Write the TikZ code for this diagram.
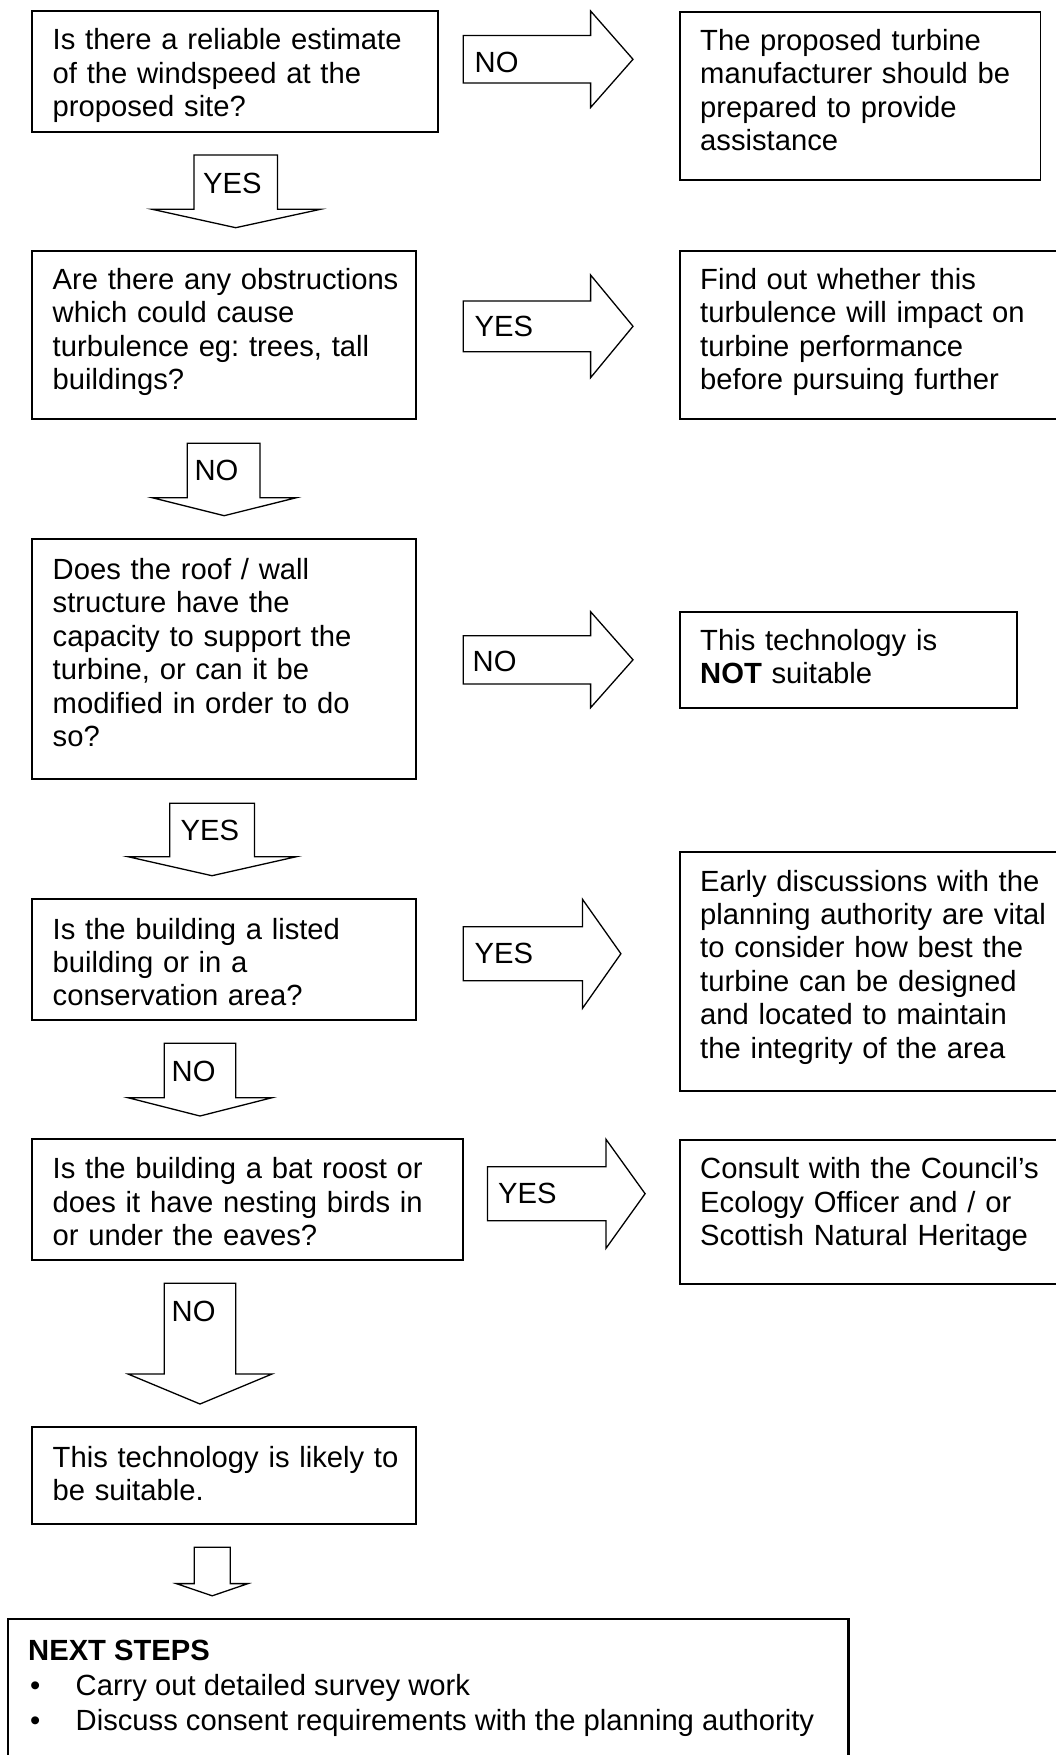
\documentclass[tikz,border=0pt]{standalone}
\usepackage{fontspec}
\setmainfont{Liberation Sans}
\frenchspacing
\begin{document}
\begin{tikzpicture}[x=1pt,y=-1pt,
  box/.style={draw=black, line width=1.8pt, fill=white, anchor=north west, inner sep=0pt, outer sep=0pt},
  blockarrow/.style={draw=black, line width=1.3pt, fill=white, line join=miter},
  txt/.style={anchor=base west, inner sep=0pt, text width=520pt, align=left,
    font=\fontsize{29.2}{33.4}\selectfont},
  lbl/.style={anchor=base west, inner sep=0pt, font=\fontsize{29.2}{33.4}\selectfont}]

\fill[white] (0,0) rectangle (1056,1755);
\useasboundingbox (0,0) rectangle (1056,1755);

% ---------- question boxes (left column) ----------
\node[box, minimum width=406pt, minimum height=120.7pt] (q1) at (31.6,11) {};
\node[box, minimum width=384.6pt, minimum height=168.3pt] (q2) at (31.6,251) {};
\node[box, minimum width=384.6pt, minimum height=240.3pt] (q3) at (31.6,539) {};
\node[box, minimum width=384.6pt, minimum height=120.7pt] (q4) at (31.6,899.3) {};
\node[box, minimum width=431.7pt, minimum height=120.7pt] (q5) at (31.6,1139.3) {};
\node[box, minimum width=384.6pt, minimum height=96.7pt] (q6) at (31.6,1427.3) {};
\node[box, line width=2.2pt, minimum width=840.4pt, minimum height=170pt] (next) at (8.1,1619.3) {};

% ---------- outcome boxes (right column) ----------
\node[box, minimum width=360.4pt, minimum height=168.3pt] (r1) at (680,11.7) {};
\node[box, minimum width=400pt, minimum height=168.3pt] (r2) at (680,251) {};
\node[box, minimum width=336.8pt, minimum height=96pt] (r3) at (680,611.7) {};
\node[box, minimum width=400pt, minimum height=239.6pt] (r4) at (680,851.7) {};
\node[box, minimum width=400pt, minimum height=144.3pt] (r5) at (680,1140) {};

% ---------- texts ----------
\node[txt] (q1t) at (52.5,50) {Is there a reliable estimate\\of the windspeed at the\\proposed site?};
\node[txt] (q2t) at (52.5,289.5) {Are there any obstructions\\which could cause\\turbulence eg: trees, tall\\buildings?};
\node[txt] (q3t) at (52.5,579.5) {Does the roof / wall\\structure have the\\capacity to support the\\turbine, or can it be\\modified in order to do\\so?};
\node[txt] (q4t) at (52.5,939) {Is the building a listed\\building or in a\\conservation area?};
\node[txt] (q5t) at (52.5,1178.7) {Is the building a bat roost or\\does it have nesting birds in\\or under the eaves?};
\node[txt] (q6t) at (52.5,1467) {This technology is likely to\\be suitable.};

\node[txt] (r1t) at (700,50.3) {The proposed turbine\\manufacturer should be\\prepared to provide\\assistance};
\node[txt] (r2t) at (700,289.5) {Find out whether this\\turbulence will impact on\\turbine performance\\before pursuing further};
\node[txt] (r3t) at (700,650.5) {This technology is\\\textbf{NOT} suitable};
\node[txt] (r4t) at (700,891) {Early discussions with the\\planning authority are vital\\to consider how best the\\turbine can be designed\\and located to maintain\\the integrity of the area};
\node[txt] (r5t) at (700,1178.7) {Consult with the Council’s\\Ecology Officer and / or\\Scottish Natural Heritage};

\node[lbl, font=\fontsize{29.2}{33.4}\selectfont\bfseries] (nt) at (28,1660) {NEXT STEPS};
\node[lbl] (b1) at (30,1695) {•};
\node[lbl] (s1) at (75.5,1695) {Carry out detailed survey work};
\node[lbl] (b2) at (30,1730.5) {•};
\node[lbl] (s2) at (75.5,1730.5) {Discuss consent requirements with the planning authority};

% ---------- block arrows pointing right ----------
\draw[blockarrow] (463.3,35.5) -- (590.6,35.5) -- (590.6,11) -- (633,59.3) -- (590.6,107.5) -- (590.6,83) -- (463.3,83) -- cycle;
\node[lbl] (a1) at (474.5,72.7) {NO};
\draw[blockarrow] (463.3,301) -- (590.6,301) -- (590.6,275) -- (633,326.3) -- (590.6,377.7) -- (590.6,351.7) -- (463.3,351.7) -- cycle;
\node[lbl] (a2) at (474.5,336.7) {YES};
\draw[blockarrow] (463.3,635.7) -- (590.6,635.7) -- (590.6,611.7) -- (633,659.8) -- (590.6,707.7) -- (590.6,684) -- (463.3,684) -- cycle;
\node[lbl] (a3) at (472.5,671.7) {NO};
\draw[blockarrow] (463.3,926.7) -- (582.5,926.7) -- (582.5,899.3) -- (620.9,953.7) -- (582.5,1008.3) -- (582.5,980.7) -- (463.3,980.7) -- cycle;
\node[lbl] (a4) at (474.5,963.3) {YES};
\draw[blockarrow] (487.5,1166.7) -- (606,1166.7) -- (606,1139.3) -- (645.1,1193.7) -- (606,1248.3) -- (606,1220.7) -- (487.5,1220.7) -- cycle;
\node[lbl] (a5) at (498,1203.3) {YES};

% ---------- block arrows pointing down ----------
\draw[blockarrow] (194,155) -- (277.4,155) -- (277.4,209.3) -- (320.5,209.3) -- (235.7,227.7) -- (152.2,209.3) -- (194,209.3) -- cycle;
\node[lbl] (d1) at (203,193.5) {YES};
\draw[blockarrow] (187.2,443.3) -- (260,443.3) -- (260,497.7) -- (296.3,497.7) -- (224.2,515.7) -- (152.2,497.7) -- (187.2,497.7) -- cycle;
\node[lbl] (d2) at (194.4,480.5) {NO};
\draw[blockarrow] (169.7,803.3) -- (254.5,803.3) -- (254.5,856.7) -- (296.3,856.7) -- (212,875.7) -- (128,856.7) -- (169.7,856.7) -- cycle;
\node[lbl] (d3) at (180.5,840) {YES};
\draw[blockarrow] (164.3,1043.3) -- (235.7,1043.3) -- (235.7,1097.7) -- (272,1097.7) -- (200,1116) -- (128,1097.7) -- (164.3,1097.7) -- cycle;
\node[lbl] (d4) at (171.5,1081.7) {NO};
\draw[blockarrow] (164.3,1283.3) -- (235.7,1283.3) -- (235.7,1374) -- (272,1374) -- (200,1404) -- (128,1374) -- (164.3,1374) -- cycle;
\node[lbl] (d5) at (171.5,1321.7) {NO};
\draw[blockarrow] (194.2,1547.3) -- (230.2,1547.3) -- (230.2,1583.6) -- (248,1583.6) -- (212.2,1595.8) -- (176.3,1583.6) -- (194.2,1583.6) -- cycle;

\end{tikzpicture}
\end{document}
